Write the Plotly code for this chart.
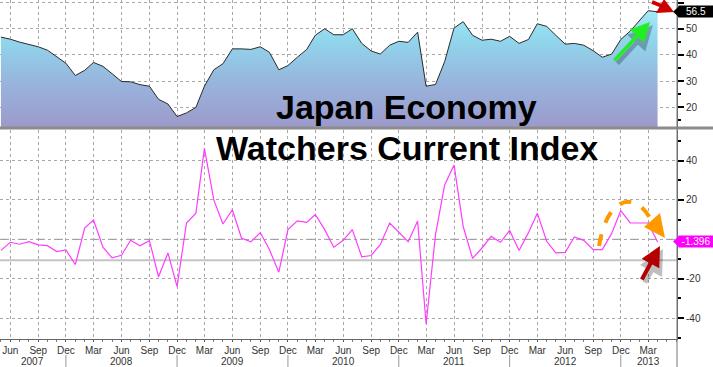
import plotly.graph_objects as go
import pandas as pd

# ---------------- data ----------------
months = pd.date_range("2007-05-01", "2013-04-01", freq="MS")

index_level = [
    46.8, 46.0, 44.9, 44.1, 43.1, 41.8, 39.3, 36.8,                  # 2007 May-Dec
    32.1, 34.1, 37.1, 35.6, 32.8, 29.8, 29.7, 28.6, 28.0, 23.0, 21.2, 16.4,  # 2008
    17.8, 19.9, 28.0, 34.3, 36.6, 42.3, 42.3, 42.1, 43.1, 41.0, 34.3, 35.9,  # 2009
    39.1, 42.1, 47.5, 50.0, 47.7, 47.7, 50.0, 44.4, 41.5, 40.3, 43.7, 45.2,  # 2010
    44.8, 48.7, 28.0, 28.7, 37.4, 50.3, 52.7, 47.5, 45.6, 46.0, 45.2, 47.1,  # 2011
    44.4, 45.9, 51.9, 50.9, 47.5, 44.1, 44.4, 43.7, 41.6, 39.1, 40.3, 45.9,  # 2012
    49.1, 53.1, 56.9, 56.5,                                          # 2013 Jan-Apr
]

mom_change = [
    -5.6, -1.5, -2.5, -1.2, -2.8, -3.2, -6.2, -5.4,
    -12.8, 5.8, 9.8, -4.0, -9.4, -8.1, -0.5, -3.3, -0.7, -19.0, -6.9, -24.0,
    8.3, 13.3, 46.2, 20.0, 7.8, 15.0, 0.7, -1.3, 3.4, -5.2, -16.7, 4.9,
    9.4, 8.6, 12.6, 4.9, -4.0, -0.5, 4.9, -8.9, -8.2, -2.7, 8.3, 3.5,
    -1.2, 9.3, -43.0, 2.5, 27.6, 37.7, 6.5, -9.7, -4.4, 1.5, -1.5, 4.5,
    -5.7, 3.4, 13.3, -1.0, -6.9, -6.6, 1.2, -0.5, -5.2, -5.2, 3.0, 14.6,
    8.3, 8.3, 8.3, -1.396,
]

tick_dates = pd.date_range("2007-06-01", "2013-03-01", freq="3MS")
tick_text = [d.strftime("%b") for d in tick_dates]

year_labels = ["2007", "2008", "2009", "2010", "2011", "2012", "2013"]
year_label_dates = ["2007-08-14", "2008-06-01", "2009-06-01", "2010-06-01",
                    "2011-06-01", "2012-06-01", "2013-03-03"]
year_separators = ["2007-12-01", "2008-12-01", "2009-12-01",
                   "2010-12-01", "2011-12-01", "2012-12-01"]

top_ticks = [20, 30, 40, 50, 60]
bottom_ticks = [-40, -20, 0, 20, 40]
bottom_tick_text = ["-40", "-20", "", "20", "40"]   # 0 sits under the last-value tag
ref_line_value = -10.6

last_level_label = "56.5"
last_change_label = "-1.396"
title_line1 = "Japan Economy"
title_line2 = "Watchers Current Index"

# ---------------- geometry helpers ----------------
W, H = 713, 367
ML, MR, MT, MB = 0, 36, 0, 28
PW, PH = W - ML - MR, H - MT - MB


def px(x):
    return (x - ML) / PW


def py(y):
    return (PH + MT - y) / PH


x_range = ["2007-04-28", "2013-06-04"]
tick_font = dict(family="Liberation Sans, Arial", size=10, color="#333333")

fig = go.Figure()

# top panel: level with gradient area
fig.add_trace(go.Scatter(
    x=months, y=index_level, xaxis="x2", yaxis="y2",
    mode="lines", line=dict(color="#2a2a2a", width=1),
    fill="tozeroy",
    fillgradient=dict(type="vertical", start=12.4, stop=60,
                      colorscale=[[0, "#9c9acb"], [0.35, "#98b4dc"],
                                  [0.7, "#90d6ec"], [1, "#a8eefa"]]),
    hoverinfo="skip", showlegend=False,
))

# bottom panel: monthly change
fig.add_trace(go.Scatter(
    x=months, y=mom_change, xaxis="x", yaxis="y",
    mode="lines", line=dict(color="#ff3cff", width=1.2),
    hoverinfo="skip", showlegend=False,
))

grid = dict(showgrid=True, gridcolor="#a8a8a8", griddash="dot", gridwidth=1)

fig.update_layout(
    width=W, height=H,
    margin=dict(l=ML, r=MR, t=MT, b=MB),
    paper_bgcolor="white", plot_bgcolor="white",
    showlegend=False,
    xaxis=dict(domain=[0, 1], anchor="y", type="date", range=x_range,
               tickvals=tick_dates, ticktext=tick_text, tickfont=tick_font,
               ticks="outside", ticklen=2, tickcolor="#555",
               minor=dict(dtick="M1", tick0="2007-06-01", ticks="outside",
                          ticklen=2, tickcolor="#777", showgrid=False),
               showline=True, linecolor="#666", linewidth=1, zeroline=False,
               **grid),
    xaxis2=dict(domain=[0, 1], anchor="y2", type="date", range=x_range,
                matches="x", tickvals=tick_dates, showticklabels=False,
                ticks="", showline=False, zeroline=False, **grid),
    yaxis=dict(domain=[0, py(130)], anchor="x", side="right",
               range=[-50.6, 55.5], tickvals=bottom_ticks,
               ticktext=bottom_tick_text, tickfont=tick_font,
               ticks="outside", ticklen=6, tickcolor="#000", tickwidth=1.5,
               minor=dict(dtick=10, tick0=-50, ticks="outside", ticklen=3,
                          tickcolor="#000", showgrid=False),
               showline=True, linecolor="#666", zeroline=False, **grid),
    yaxis2=dict(domain=[py(127), 1], anchor="x2", side="right",
                range=[12.4, 61.0], tickvals=top_ticks, tickfont=tick_font,
                ticks="outside", ticklen=6, tickcolor="#000", tickwidth=1.5,
                minor=dict(dtick=5, tick0=0, ticks="outside", ticklen=3,
                           tickcolor="#000", showgrid=False),
                showline=True, linecolor="#666", zeroline=False, **grid),
)

shapes = []
# zero dashed line and reference line in bottom panel
shapes.append(dict(type="line", xref="paper", yref="y", x0=0, x1=1, y0=0, y1=0,
                   line=dict(color="#8a8a8a", width=1, dash="dash"), layer="below"))
shapes.append(dict(type="line", xref="paper", yref="y", x0=0, x1=1,
                   y0=ref_line_value, y1=ref_line_value,
                   line=dict(color="#c4c4c4", width=2), layer="below"))
# separator between panels
shapes.append(dict(type="line", xref="paper", yref="paper", x0=0, x1=px(W),
                   y0=py(128), y1=py(128), line=dict(color="#8c8c8c", width=3)))
# right axis line full height
shapes.append(dict(type="line", xref="paper", yref="paper", x0=1, x1=1,
                   y0=py(0), y1=py(H), line=dict(color="#777", width=1)))
# year separators
for d in year_separators:
    shapes.append(dict(type="line", xref="x", yref="paper", x0=d, x1=d,
                       y0=py(355), y1=py(H), line=dict(color="#999", width=1)))

# label pointers
for (yc, col) in [(11.7, "#000000"), (241.5, "#ff00ff")]:
    shapes.append(dict(type="path", xref="paper", yref="paper",
                       path=f"M {px(673)},{py(yc)} L {px(679)},{py(yc-5.5)} "
                            f"L {px(679)},{py(yc+5.5)} Z",
                       fillcolor=col, line=dict(width=0)))

# orange dashed curved arrow
P0, P1, P2, P3 = (599, 246), (608, 192), (638, 192), (652, 222)
shapes.append(dict(type="path", xref="paper", yref="paper",
                   path=f"M {px(P0[0])},{py(P0[1])} C {px(P1[0])},{py(P1[1])} "
                        f"{px(P2[0])},{py(P2[1])} {px(P3[0])},{py(P3[1])}",
                   line=dict(color="#ff9900", width=4, dash="dash")))
shapes.append(dict(type="path", xref="paper", yref="paper",
                   path=f"M {px(665)},{py(238)} L {px(644)},{py(227)} "
                        f"L {px(660)},{py(213)} Z",
                   fillcolor="#ff9900", line=dict(width=0)))

# top red arrow drawn as shaft + head (pointing at the 56.5 tag)
shapes.append(dict(type="line", xref="paper", yref="paper",
                   x0=px(652), y0=py(2), x1=px(662), y1=py(6),
                   line=dict(color="#cc0000", width=4)))
shapes.append(dict(type="path", xref="paper", yref="paper",
                   path=f"M {px(674)},{py(12)} L {px(656)},{py(13)} "
                        f"L {px(664)},{py(-1)} Z",
                   fillcolor="#cc0000", line=dict(width=0)))

fig.update_layout(shapes=shapes)

ann = []
# year labels under the month ticks
for lab, d in zip(year_labels, year_label_dates):
    ann.append(dict(x=d, xref="x", y=py(361), yref="paper", text=lab,
                    showarrow=False, font=tick_font, xanchor="center",
                    yanchor="middle"))

# title
title_font = dict(family="Liberation Sans, Arial", size=34, color="black",
                  weight="bold")
ann.append(dict(x=px(406), y=py(107), xref="paper", yref="paper",
                text=title_line1, showarrow=False, font=title_font,
                xanchor="center", yanchor="middle"))
ann.append(dict(x=px(407), y=py(148), xref="paper", yref="paper",
                text=title_line2, showarrow=False, font=title_font,
                xanchor="center", yanchor="middle"))

# last value labels
tag_font = dict(family="Liberation Sans, Arial", size=10, color="white")
ann.append(dict(x=px(696), y=py(11.7), xref="paper", yref="paper",
                text=last_level_label, showarrow=False, bgcolor="#000000",
                font=tag_font, xanchor="center", yanchor="middle",
                borderpad=0, width=34, height=11))
ann.append(dict(x=px(696), y=py(241.5), xref="paper", yref="paper",
                text=last_change_label, showarrow=False, bgcolor="#ff00ff",
                font=tag_font, xanchor="center", yanchor="middle",
                borderpad=0, width=34, height=11))


def arrow(tip, tail, color, width, head=2, size=1.0, shadow=True):
    out = []
    if shadow:
        out.append(dict(x=px(tip[0] + 3), y=py(tip[1] + 3), xref="paper", yref="paper",
                        ax=tail[0] - tip[0], ay=tail[1] - tip[1], text="",
                        showarrow=True, arrowhead=head, arrowsize=size,
                        arrowwidth=width + 1, arrowcolor="rgba(0,0,0,0.25)"))
    out.append(dict(x=px(tip[0]), y=py(tip[1]), xref="paper", yref="paper",
                    ax=tail[0] - tip[0], ay=tail[1] - tip[1], text="",
                    showarrow=True, arrowhead=head, arrowsize=size,
                    arrowwidth=width, arrowcolor=color))
    return out


ann += arrow((650, 22), (613, 62), "#22ee22", 3.5, size=1.1)
ann += arrow((660, 246), (641, 281), "#b30000", 4, size=1.0)

fig.update_layout(annotations=ann)

fig.write_html("out.html",
               config={"displayModeBar": False},
               post_script="document.body.style.margin='0px';"
                           "document.body.style.overflow='hidden';")
